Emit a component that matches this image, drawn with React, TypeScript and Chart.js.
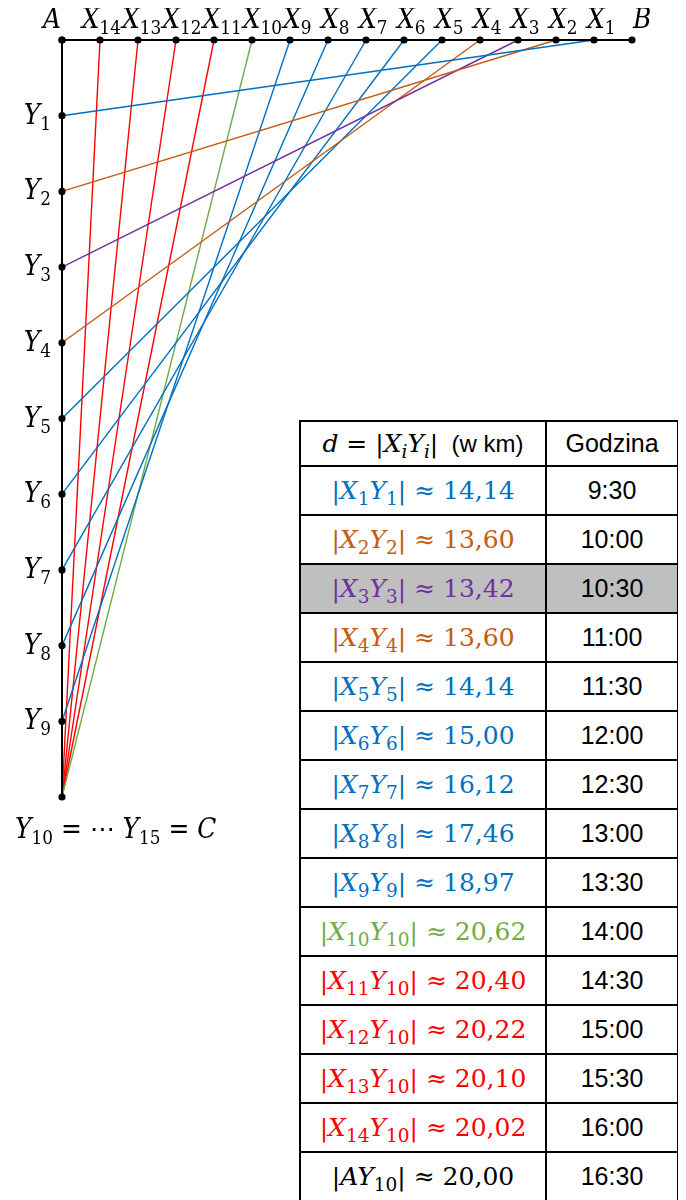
import React, { useEffect, useRef } from 'react';
import { Chart, registerables } from 'chart.js';

Chart.register(...registerables);

// ---- data (km) ----
const AB_KM = 15; // A -> B along the top
const X_INDEX = [1, 2, 3, 4, 5, 6, 7, 8, 9, 10, 11, 12, 13, 14];
const AX_KM = [14, 13, 12, 11, 10, 9, 8, 7, 6, 5, 4, 3, 2, 1];
const Y_INDEX = [1, 2, 3, 4, 5, 6, 7, 8, 9, 10];
const AY_KM = [2, 4, 6, 8, 10, 12, 14, 16, 18, 20];
const SEGMENT_Y = [1, 2, 3, 4, 5, 6, 7, 8, 9, 10, 10, 10, 10, 10];
const DIST_KM = [14.14, 13.6, 13.42, 13.6, 14.14, 15.0, 16.12, 17.46, 18.97, 20.62, 20.4, 20.22, 20.1, 20.02, 20.0];
const TIMES = ['9:30', '10:00', '10:30', '11:00', '11:30', '12:00', '12:30', '13:00', '13:30', '14:00', '14:30', '15:00', '15:30', '16:00', '16:30'];
const HIGHLIGHT_ROW = 2;

// ---- styles ----
const BLUE = '#0070C0';
const ORANGE = '#C55A11';
const PURPLE = '#7030A0';
const GREEN = '#70AD47';
const RED = '#FF0000';
const SEG_COLORS = [BLUE, ORANGE, PURPLE, ORANGE, BLUE, BLUE, BLUE, BLUE, BLUE, GREEN, RED, RED, RED, RED];
const MATH_FONT = '"DejaVu Serif", serif';
const SANS_FONT = '"Liberation Sans", Arial, sans-serif';

const BIG = 28;
const SMALL = 19;
const SX = 0.89; // horizontal condensing of label glyphs

type Piece = [string, string, boolean?];

const labelPlugin = {
  id: 'geomLabels',
  afterDatasetsDraw(chart: any) {
    const { ctx, scales } = chart;
    const xs = scales.x;
    const ys = scales.y;
    const fBig = `italic ${BIG}px ${MATH_FONT}`;
    const fUp = `${BIG}px ${MATH_FONT}`;
    const fSmall = `${SMALL}px ${MATH_FONT}`;
    ctx.save();
    ctx.fillStyle = '#000';
    ctx.textBaseline = 'alphabetic';
    ctx.textAlign = 'left';
    const width = (pieces: Piece[]) => {
      let w = 0;
      for (const [main, sub, upright] of pieces) {
        ctx.font = upright ? fUp : fBig;
        w += ctx.measureText(main).width * SX;
        if (sub) {
          ctx.font = fSmall;
          w += ctx.measureText(sub).width * SX;
        }
      }
      return w;
    };
    const put = (txt: string, font: string, x: number, y: number) => {
      ctx.font = font;
      ctx.save();
      ctx.translate(x, y);
      ctx.scale(SX, 1);
      ctx.fillText(txt, 0, 0);
      ctx.restore();
      return ctx.measureText(txt).width * SX;
    };
    const draw = (pieces: Piece[], left: number, base: number) => {
      let cx = left;
      for (const [main, sub, upright] of pieces) {
        cx += put(main, upright ? fUp : fBig, cx, base);
        if (sub) cx += put(sub, fSmall, cx, base + 6);
      }
    };
    const y0 = ys.getPixelForValue(0);
    const x0 = xs.getPixelForValue(0);
    const topBase = y0 - 12;
    // B
    const bx = xs.getPixelForValue(AB_KM);
    draw([['B', '']], bx + 1, topBase);
    let limit = bx + 1;
    // X labels, right to left
    for (let k = 0; k < X_INDEX.length; k++) {
      const px = xs.getPixelForValue(AX_KM[k]);
      const pcs: Piece[] = [['X', String(X_INDEX[k])]];
      const w = width(pcs);
      let left = px - 7;
      if (left + w > limit - 1) left = limit - 1 - w;
      draw(pcs, left, topBase);
      limit = left;
    }
    // A
    const aw = width([['A', '']]);
    draw([['A', '']], x0 - aw - 1, topBase);
    // Y labels
    for (let k = 0; k < Y_INDEX.length - 1; k++) {
      const py = ys.getPixelForValue(AY_KM[k]);
      const pcs: Piece[] = [['Y', String(Y_INDEX[k])]];
      const w = width(pcs);
      draw(pcs, x0 - 11 - w, py + 8);
    }
    // C label
    const cy = ys.getPixelForValue(AY_KM[AY_KM.length - 1]);
    const cpcs: Piece[] = [
      ['Y', '10'],
      [' = \u22EF ', '', true],
      ['Y', '15'],
      [' = ', '', true],
      ['C', ''],
    ];
    draw(cpcs, x0 - 47, cy + 41);
    ctx.restore();
  },
};

function Sub({ children }: { children: React.ReactNode }) {
  return (
    <span style={{ fontSize: '74%', fontStyle: 'normal', position: 'relative', top: '0.3em', lineHeight: 0 }}>
      {children}
    </span>
  );
}

function fmt(v: number) {
  return v.toFixed(2).replace('.', ',');
}

export default function App() {
  const ref = useRef<HTMLCanvasElement | null>(null);

  useEffect(() => {
    if (!ref.current) return;
    const topAxis = [{ x: 0, y: 0 }, ...AX_KM.map((v) => ({ x: v, y: 0 })), { x: AB_KM, y: 0 }];
    const leftAxis = [{ x: 0, y: 0 }, ...AY_KM.map((v) => ({ x: 0, y: v }))];
    const segs = X_INDEX.map((xi, k) => ({
      label: `X${xi}Y${SEGMENT_Y[k]}`,
      data: [
        { x: AX_KM[k], y: 0 },
        { x: 0, y: AY_KM[SEGMENT_Y[k] - 1] },
      ],
      showLine: true,
      borderColor: SEG_COLORS[k],
      borderWidth: 1.4,
      pointRadius: 0,
      clip: false as any,
      order: 2,
    }));
    const chart = new Chart(ref.current, {
      type: 'scatter',
      data: {
        datasets: [
          ...segs,
          {
            label: 'AB',
            data: topAxis,
            showLine: true,
            borderColor: '#000',
            borderWidth: 2,
            pointRadius: 3.6,
            pointBackgroundColor: '#000',
            pointBorderWidth: 0,
            clip: false as any,
            order: 1,
          },
          {
            label: 'AC',
            data: leftAxis,
            showLine: true,
            borderColor: '#000',
            borderWidth: 2,
            pointRadius: 3.6,
            pointBackgroundColor: '#000',
            pointBorderWidth: 0,
            clip: false as any,
            order: 1,
          },
        ] as any,
      },
      options: {
        animation: false,
        responsive: false,
        layout: { padding: { left: 54, right: 46, top: 32, bottom: 71 } },
        scales: {
          x: { type: 'linear', min: 0, max: AB_KM, display: false },
          y: { type: 'linear', min: 0, max: AY_KM[AY_KM.length - 1], reverse: true, display: false },
        },
        plugins: { legend: { display: false }, tooltip: { enabled: false } },
        events: [],
      },
      plugins: [labelPlugin],
    });
    return () => chart.destroy();
  }, []);

  const cell: React.CSSProperties = {
    border: '2px solid #000',
    padding: 0,
    textAlign: 'center',
    verticalAlign: 'middle',
  };
  const mathCell: React.CSSProperties = { ...cell, fontFamily: MATH_FONT, fontSize: 25, width: 244 };
  const timeCell: React.CSSProperties = { ...cell, fontFamily: SANS_FONT, fontSize: 25, width: 130 };

  return (
    <div style={{ position: 'relative', width: 670, height: 1192, overflow: 'hidden' }}>
      <canvas ref={ref} width={670} height={860} style={{ position: 'absolute', left: 0, top: 0, width: 670, height: 860 }} />
      <table
        style={{
          position: 'absolute',
          left: 291,
          top: 412,
          borderCollapse: 'collapse',
          background: '#fff',
          tableLayout: 'fixed',
          width: 378,
        }}
      >
        <tbody>
          <tr style={{ height: 45 }}>
            <td style={mathCell}>
              <i>d</i> = |<i>X</i>
              <Sub>
                <i>i</i>
              </Sub>
              <i>Y</i>
              <Sub>
                <i>i</i>
              </Sub>
              |<span style={{ fontFamily: SANS_FONT, fontSize: 24 }}>{'\u00A0 (w km)'}</span>
            </td>
            <td style={timeCell}>Godzina</td>
          </tr>
          {TIMES.map((t, r) => {
            const bg = r === HIGHLIGHT_ROW ? '#BFBFBF' : '#fff';
            const color = r < X_INDEX.length ? SEG_COLORS[r] : '#000';
            return (
              <tr key={r} style={{ height: 49, background: bg }}>
                <td style={{ ...mathCell, color }}>
                  {r < X_INDEX.length ? (
                    <>
                      |<i>X</i>
                      <Sub>{X_INDEX[r]}</Sub>
                      <i>Y</i>
                      <Sub>{SEGMENT_Y[r]}</Sub>|
                    </>
                  ) : (
                    <>
                      |<i>A</i>
                      <i>Y</i>
                      <Sub>{Y_INDEX[Y_INDEX.length - 1]}</Sub>|
                    </>
                  )}
                  {' \u2248 ' + fmt(DIST_KM[r])}
                </td>
                <td style={timeCell}>{t}</td>
              </tr>
            );
          })}
        </tbody>
      </table>
    </div>
  );
}
